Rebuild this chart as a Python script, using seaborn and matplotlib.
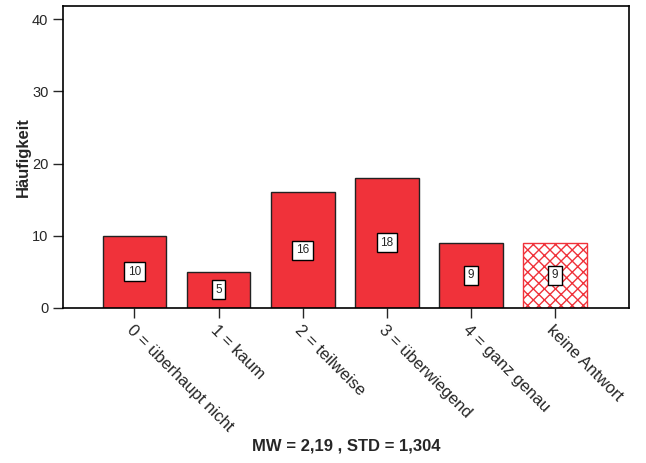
import seaborn as sns
import pandas as pd
import matplotlib.pyplot as plt

categories = ["0 = überhaupt nicht", "1 = kaum", "2 = teilweise",
              "3 = überwiegend", "4 = ganz genau", "keine Antwort"]
counts = [10, 5, 16, 18, 9, 9]
y_ticks = [0, 10, 20, 30, 40]
summary = "MW = 2,19 , STD = 1,304"

sns.set_style("ticks")
plt.rcParams['font.family'] = ['Liberation Sans', 'DejaVu Sans']
plt.rcParams['hatch.color'] = '#f0323a'
plt.rcParams['hatch.linewidth'] = 1.0

red = '#f0323a'
df = pd.DataFrame({'cat': categories, 'n': counts})

fig = plt.figure(figsize=(6.46, 4.63), dpi=100)
ax = fig.add_axes([0.0975, 0.335, 0.876, 0.653])
sns.barplot(data=df, x='cat', y='n', color=red, saturation=1, width=0.76,
            edgecolor='#222222', linewidth=1.0, ax=ax)

# "keine Antwort" drawn hatched
last = ax.patches[-1]
last.set_facecolor('white')
last.set_hatch('xxx')
last.set_edgecolor(red)

for p, v in zip(ax.patches, counts):
    ax.text(p.get_x() + p.get_width() / 2, p.get_height() / 2, str(v),
            ha='center', va='center', fontsize=8.5,
            bbox=dict(boxstyle='square,pad=0.3', fc='white', ec='black', lw=1.0))

ax.set_ylim(0, 41.9)
ax.set_xlim(-0.85, 5.88)
ax.set_yticks(y_ticks)
ax.tick_params(axis='both', direction='out', length=7, width=1, labelsize=10.5)
ax.set_xticks(range(len(categories)))
ax.set_xticklabels(categories, rotation=-45, ha='left', va='top',
                   rotation_mode='anchor', fontsize=12)
for s in ax.spines.values():
    s.set_visible(True)
    s.set_linewidth(1.2)
    s.set_color('black')
ax.set_ylabel('Häufigkeit', fontweight='bold', fontsize=12, labelpad=1)
ax.set_xlabel(summary, fontweight='bold', fontsize=12, labelpad=3)

fig.savefig('out.png', dpi=100)
